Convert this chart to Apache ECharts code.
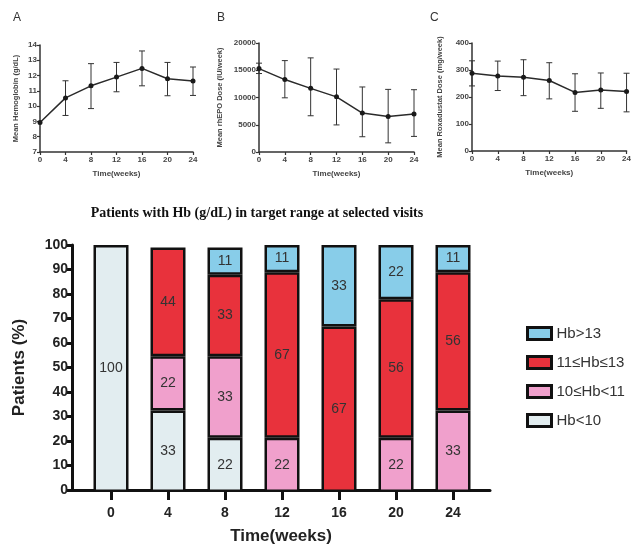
<!DOCTYPE html>
<html>
<head>
<meta charset="utf-8">
<script src="https://cdn.jsdelivr.net/npm/echarts@6/dist/echarts.min.js"></script>
<style>html,body{margin:0;padding:0;background:#fff}#c{width:634px;height:546px}</style>
</head>
<body>
<div id="c"></div>
<script>
// ---- Top panels data ----
const weeks = [0, 4, 8, 12, 16, 20, 24];
const hbMean = [8.93, 10.54, 11.33, 11.9, 12.47, 11.79, 11.64];
const hbLow  = [null, 9.39, 9.84, 10.94, 11.33, 10.68, 10.7];
const hbHigh = [null, 11.66, 12.78, 12.86, 13.61, 12.86, 12.56];
const epoMean = [15300, 13290, 11680, 10120, 7140, 6520, 6960];
const epoLow  = [14400, 9940, 6650, 4970, 2800, 1680, 2860];
const epoHigh = [16300, 16770, 17270, 15220, 11930, 11490, 11430];
const roxMean = [288, 278, 273, 261, 217, 226, 220];
const roxLow  = [241, 224, 205, 193, 147, 158, 145];
const roxHigh = [334, 333, 338, 327, 286, 289, 288];

// ---- Bottom stacked bar data ----
const visitLabels = ['0', '4', '8', '12', '16', '20', '24'];
const hbBelow10 = [100, 33, 22, 0, 0, 0, 0];
const hb10to11  = [0, 22, 33, 22, 0, 22, 33];
const hb11to13  = [0, 44, 33, 67, 67, 56, 56];
const hbAbove13 = [0, 0, 11, 11, 33, 22, 11];
const groupNames = ['Hb<10', '10≤Hb<11', '11≤Hb≤13', 'Hb>13'];
const groupColors = ['#e2edf0', '#f0a0cc', '#e8323c', '#88cde9'];

const chart = echarts.init(document.getElementById('c'));

const small = {fontSize: 8, fontWeight: 'bold', color: '#444', fontFamily: 'Liberation Sans'};
const smallAxisLine = {lineStyle: {color: '#333', width: 1.5}};

function errSeries(idx, lows, highs) {
  const data = weeks.map((w, i) => [w, lows[i], highs[i]]).filter(d => d[1] != null);
  return {
    type: 'custom', xAxisIndex: idx, yAxisIndex: idx, z: 3,
    data: data,
    encode: {x: 0, y: [1, 2]},
    renderItem: function (params, api) {
      const x = api.value(0);
      const lo = api.coord([x, api.value(1)]);
      const hi = api.coord([x, api.value(2)]);
      const cw = 3;
      const st = {stroke: '#333', lineWidth: 1};
      return {type: 'group', children: [
        {type: 'line', shape: {x1: lo[0], y1: lo[1], x2: hi[0], y2: hi[1]}, style: st},
        {type: 'line', shape: {x1: lo[0] - cw, y1: lo[1], x2: lo[0] + cw, y2: lo[1]}, style: st},
        {type: 'line', shape: {x1: hi[0] - cw, y1: hi[1], x2: hi[0] + cw, y2: hi[1]}, style: st}
      ]};
    }
  };
}
function lineSeries(idx, vals) {
  return {
    type: 'line', xAxisIndex: idx, yAxisIndex: idx, z: 4,
    data: weeks.map((w, i) => [w, vals[i]]),
    symbol: 'circle', symbolSize: 5,
    lineStyle: {color: '#2a2a2a', width: 1.5},
    itemStyle: {color: '#1a1a1a'}
  };
}
function smallX(idx) {
  return {
    type: 'value', gridIndex: idx, min: 0, max: 24, interval: 4,
    name: 'Time(weeks)', nameLocation: 'middle', nameGap: 18,
    nameTextStyle: {fontSize: 8, fontWeight: 'bold', color: '#444', fontFamily: 'Liberation Sans'},
    axisLine: smallAxisLine, axisTick: {length: 3, lineStyle: {color: '#333', width: 1.2}},
    axisLabel: Object.assign({margin: 4}, small), splitLine: {show: false}
  };
}
function smallY(idx, min, max, interval, name, gap) {
  return {
    type: 'value', gridIndex: idx, min: min, max: max, interval: interval,
    name: name, nameLocation: 'middle', nameGap: gap,
    nameTextStyle: {fontSize: 7.5, fontWeight: 'bold', color: '#444', fontFamily: 'Liberation Sans'},
    axisLine: Object.assign({show: true}, smallAxisLine), axisTick: {show: true, length: 3, lineStyle: {color: '#333', width: 1.2}},
    axisLabel: Object.assign({margin: 3, formatter: v => String(v)}, small), splitLine: {show: false}
  };
}

const stacks = [hbBelow10, hb10to11, hb11to13, hbAbove13];
const barSeries = stacks.map((vals, k) => ({
  type: 'bar', name: groupNames[k], stack: 'hb', xAxisIndex: 4, yAxisIndex: 4,
  barWidth: 35,
  data: vals.map(v => (v > 0 ? v : '-')),
  itemStyle: {color: groupColors[k], borderColor: '#111', borderWidth: 2.5},
  label: {show: true, position: 'inside', fontSize: 14, color: '#333', fontFamily: 'Liberation Sans'}
}));

const option = {
  animation: false,
  backgroundColor: '#fff',
  title: [
    {text: 'Patients with Hb (g/dL) in target range at selected visits', left: 252, top: 201, textAlign: 'center',
     textStyle: {fontFamily: 'Liberation Serif', fontWeight: 'bold', fontSize: 14, color: '#111'}},
    {text: 'A', left: 8, top: 7, textStyle: {fontSize: 12, fontWeight: 'normal', color: '#333', fontFamily: 'Liberation Sans'}},
    {text: 'B', left: 212, top: 7, textStyle: {fontSize: 12, fontWeight: 'normal', color: '#333', fontFamily: 'Liberation Sans'}},
    {text: 'C', left: 425, top: 7, textStyle: {fontSize: 12, fontWeight: 'normal', color: '#333', fontFamily: 'Liberation Sans'}}
  ],
  legend: {
    data: ['Hb>13', '11≤Hb≤13', '10≤Hb<11', 'Hb<10'],
    orient: 'vertical', left: 521, top: 321, itemWidth: 24, itemHeight: 12, itemGap: 14,
    icon: 'rect',
    itemStyle: {borderColor: '#111', borderWidth: 3},
    textStyle: {fontSize: 15, color: '#333', fontFamily: 'Liberation Sans'}
  },
  grid: [
    {left: 40, top: 45, width: 153, height: 107},
    {left: 259, top: 43, width: 155, height: 109},
    {left: 472, top: 43, width: 156, height: 108},
    {left: 72, top: 245, width: 418, height: 247},
    {left: 82.5, top: 245, width: 399, height: 247}
  ],
  xAxis: [
    smallX(0), smallX(1), smallX(2),
    {
      type: 'value', gridIndex: 3, min: 0, max: 1,
      name: 'Time(weeks)', nameLocation: 'middle', nameGap: 38,
      nameTextStyle: {fontSize: 17, fontWeight: 'bold', color: '#222', fontFamily: 'Liberation Sans'},
      axisLine: {lineStyle: {color: '#111', width: 3}},
      axisTick: {show: false}, axisLabel: {show: false}, splitLine: {show: false}
    },
    {
      type: 'category', gridIndex: 4, data: visitLabels,
      axisLine: {show: false},
      axisTick: {show: true, alignWithLabel: true, length: 8, lineStyle: {color: '#111', width: 3}},
      axisLabel: {fontSize: 14, fontWeight: 'bold', color: '#222', margin: 14, fontFamily: 'Liberation Sans'},
      splitLine: {show: false}
    }
  ],
  yAxis: [
    smallY(0, 7, 14, 1, 'Mean Hemoglobin (g/dL)', 20),
    smallY(1, 0, 20000, 5000, 'Mean rhEPO Dose (IU/week)', 35),
    smallY(2, 0, 400, 100, 'Mean Roxadustat Dose (mg/week)', 28),
    {
      type: 'value', gridIndex: 3, min: 0, max: 100, interval: 10,
      name: 'Patients (%)', nameLocation: 'middle', nameGap: 44,
      nameTextStyle: {fontSize: 17, fontWeight: 'bold', color: '#222', fontFamily: 'Liberation Sans'},
      axisLine: {show: true, lineStyle: {color: '#111', width: 3}},
      axisTick: {show: true, length: 6, lineStyle: {color: '#111', width: 3}},
      axisLabel: {fontSize: 14, fontWeight: 'bold', color: '#222', margin: 4, fontFamily: 'Liberation Sans'},
      splitLine: {show: false}
    },
    {
      type: 'value', gridIndex: 4, min: 0, max: 100, interval: 10, show: false
    }
  ],
  series: [
    errSeries(0, hbLow, hbHigh), lineSeries(0, hbMean),
    errSeries(1, epoLow, epoHigh), lineSeries(1, epoMean),
    errSeries(2, roxLow, roxHigh), lineSeries(2, roxMean)
  ].concat(barSeries)
};
chart.setOption(option);
</script>
</body>
</html>
